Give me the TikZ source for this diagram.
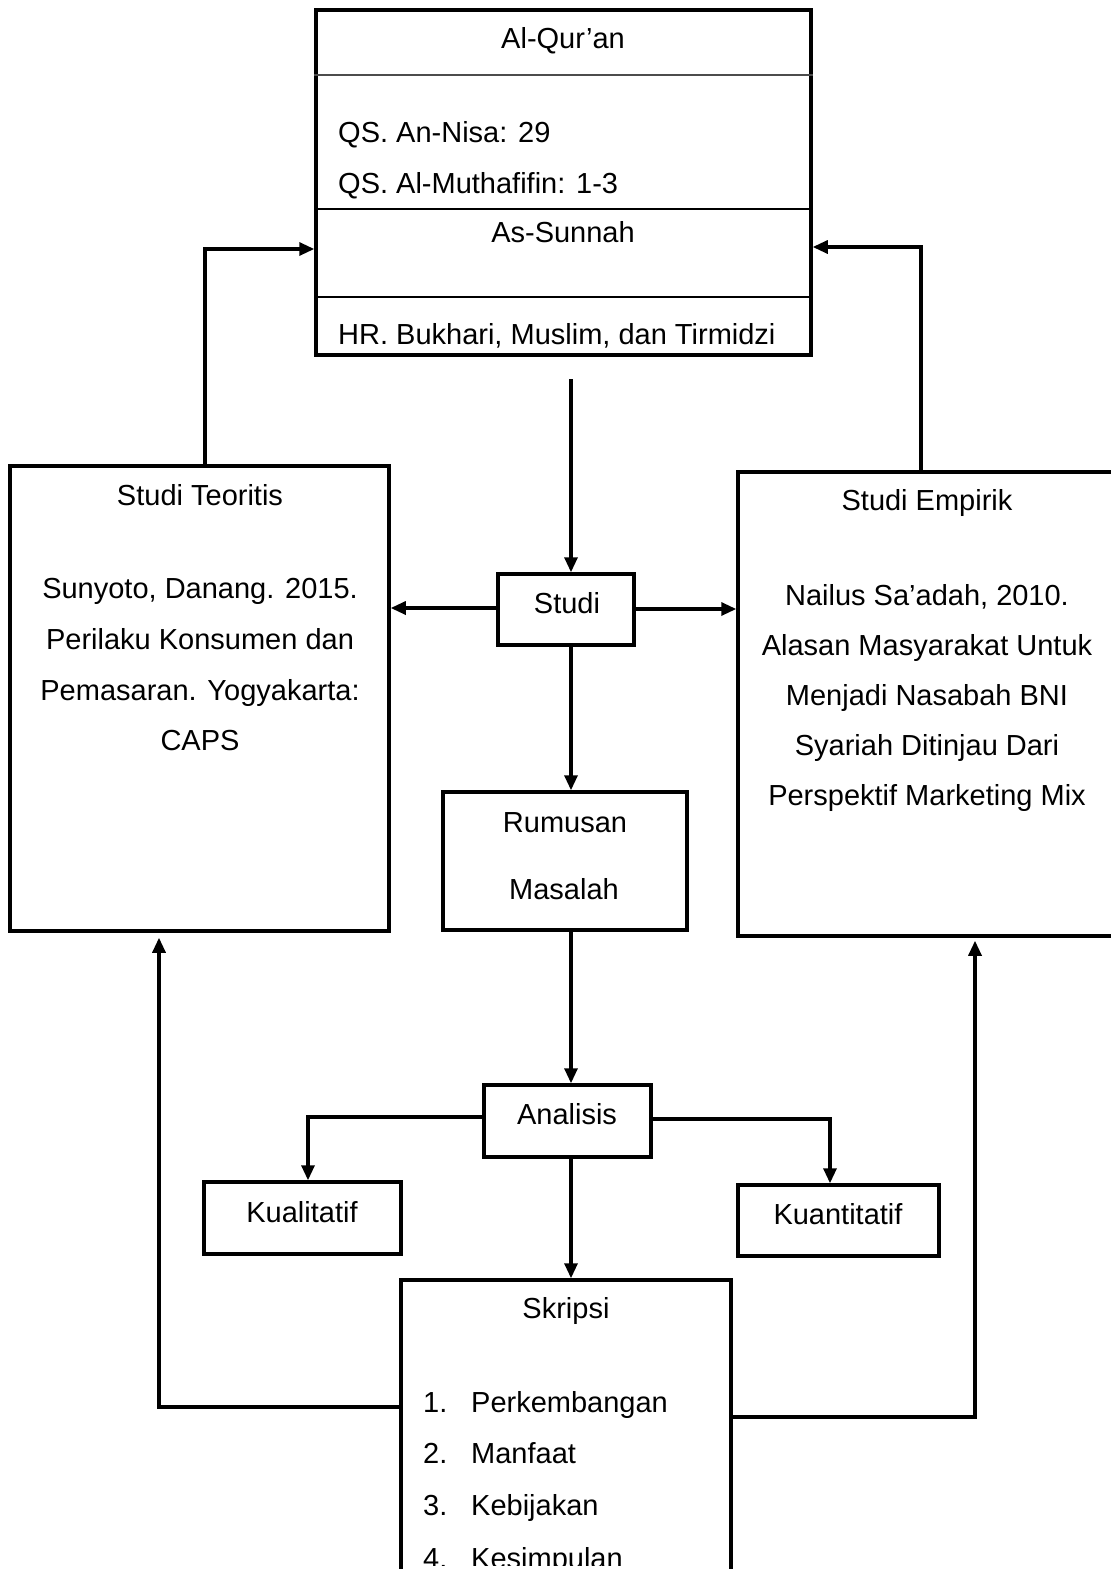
\documentclass[tikz,border=0pt]{standalone}
\usepackage{fontspec}
\setmainfont{Liberation Sans}
\usetikzlibrary{arrows.meta,calc}
% rectangle node from its corner coordinates: name, x1, y1, x2, y2
\newcommand\boxat[5]{\node[box, minimum width={(#4-#2)*1pt}, minimum height={(#5-#3)*1pt}] (#1) at ({(#2+#4)/2},{(#3+#5)/2}) {};}
\begin{document}
\begin{tikzpicture}[x=1pt,y=-1pt,
  box/.style={draw, line width=3.5pt, rectangle, inner sep=0pt},
  lbl/.style={font=\fontsize{29}{35}\selectfont, inner sep=0pt, anchor=base},
  lbll/.style={lbl, anchor=base west},
  conn/.style={line width=3.2pt},
  arr/.style={conn, -{Triangle[length=15pt,width=13pt]}},
  divline/.style={line width=2.2pt},
]
\path[use as bounding box, clip] (0,0) rectangle (1111,1569);
\fill[white] (0,0) rectangle (1111,1569);

% sources box with its dividers
\boxat{qur}{316}{10}{811}{355}
\coordinate (d1) at (0,75);
\coordinate (d2) at (0,209);
\coordinate (d3) at (0,297);
\draw[line width=1.6pt, black!70] (qur.west |- d1) -- (qur.east |- d1);
\draw[divline] (qur.west |- d2) -- (qur.east |- d2);
\draw[divline] (qur.west |- d3) -- (qur.east |- d3);
\begin{scope}
  \clip (316,10) rectangle (811,347);
  \node[lbl]  (tq)  at (563,48)  {Al-Qur’an};
  \node[lbll] (tq1) at (338,142) {QS. An-Nisa: 29};
  \node[lbll] (tq2) at (338,193) {QS. Al-Muthafifin: 1-3};
  \node[lbl]  (ts)  at (563,242) {As-Sunnah};
  \node[lbll] (ts1) at (338,344) {HR. Bukhari, Muslim, dan Tirmidzi};
\end{scope}

% theory study
\boxat{teo}{10}{466}{389}{931}
\node[lbl] (tt0) at (200,505) {Studi Teoritis};
\node[lbl] (tt1) at (200,598) {Sunyoto, Danang. 2015.};
\node[lbl] (tt2) at (200,649) {Perilaku Konsumen dan};
\node[lbl] (tt3) at (200,700) {Pemasaran. Yogyakarta:};
\node[lbl] (tt4) at (200,750) {CAPS};

% empirical study
\boxat{emp}{738}{472}{1125}{936}
\node[lbl] (te0) at (927,510) {Studi Empirik};
\node[lbl] (te1) at (927,605) {Nailus Sa’adah, 2010.};
\node[lbl] (te2) at (927,655) {Alasan Masyarakat Untuk};
\node[lbl] (te3) at (927,705) {Menjadi Nasabah BNI};
\node[lbl] (te4) at (927,755) {Syariah Ditinjau Dari};
\node[lbl] (te5) at (927,805) {Perspektif Marketing Mix};

% central column
\boxat{stu}{498}{574}{634}{645}
\node[lbl] (tstu) at (567,613) {Studi};
\boxat{rum}{443}{792}{687}{930}
\node[lbl] (tr1) at (565,832) {Rumusan};
\node[lbl] (tr2) at (564,899) {Masalah};
\boxat{ana}{484}{1085}{651}{1157}
\node[lbl] (tana) at (567,1124) {Analisis};
\boxat{kual}{204}{1182}{401}{1254}
\node[lbl] (tkual) at (302,1222) {Kualitatif};
\boxat{kuan}{738}{1185}{939}{1256}
\node[lbl] (tkuan) at (838,1224) {Kuantitatif};

% thesis box, running past the lower edge
\boxat{skr}{401}{1280}{731}{1620}
\node[lbl] (tskr) at (566,1318) {Skripsi};
\begin{scope}
  \clip (401,1280) rectangle (731,1565);
  \node[lbll] (n1) at (423,1412) {1.};
  \node[lbll] (i1) at (471,1412) {Perkembangan};
  \node[lbll] (n2) at (423,1463) {2.};
  \node[lbll] (i2) at (471,1463) {Manfaat};
  \node[lbll] (n3) at (423,1515) {3.};
  \node[lbll] (i3) at (471,1515) {Kebijakan};
  \node[lbll] (n4) at (423,1568) {4.};
  \node[lbll] (i4) at (471,1568) {Kesimpulan};
\end{scope}

% connectors
\coordinate (qtop) at (571,379);
\coordinate (cx) at (571,0);
\draw[arr] (qtop) -- (qtop |- stu.north);
\coordinate (sl) at (0,608);
\draw[arr] (stu.west |- sl) -- (teo.east |- sl);
\coordinate (sr) at (0,609);
\draw[arr] (stu.east |- sr) -- (emp.west |- sr);
\draw[arr] (stu.south -| cx) -- (rum.north -| cx);
\draw[arr] (rum.south -| cx) -- (ana.north -| cx);
\draw[arr] (ana.south -| cx) -- (skr.north -| cx);
\coordinate (al) at (308,1117);
\draw[arr] (ana.west |- al) -- (al) -- (kual.north -| al);
\coordinate (ar) at (830,1119);
\draw[arr] (ana.east |- ar) -- (ar) -- (kuan.north -| ar);
\coordinate (bl) at (159,1407);
\draw[arr, shorten >=5pt] (skr.west |- bl) -- (bl) -- (teo.south -| bl);
\coordinate (br) at (975,1417);
\draw[arr, shorten >=3pt] (skr.east |- br) -- (br) -- (emp.south -| br);
\coordinate (tl) at (205,249);
\draw[arr] (teo.north -| tl) -- (tl) -- (qur.west |- tl);
\coordinate (tr) at (921,247);
\draw[arr] (emp.north -| tr) -- (tr) -- (qur.east |- tr);
\end{tikzpicture}
\end{document}
